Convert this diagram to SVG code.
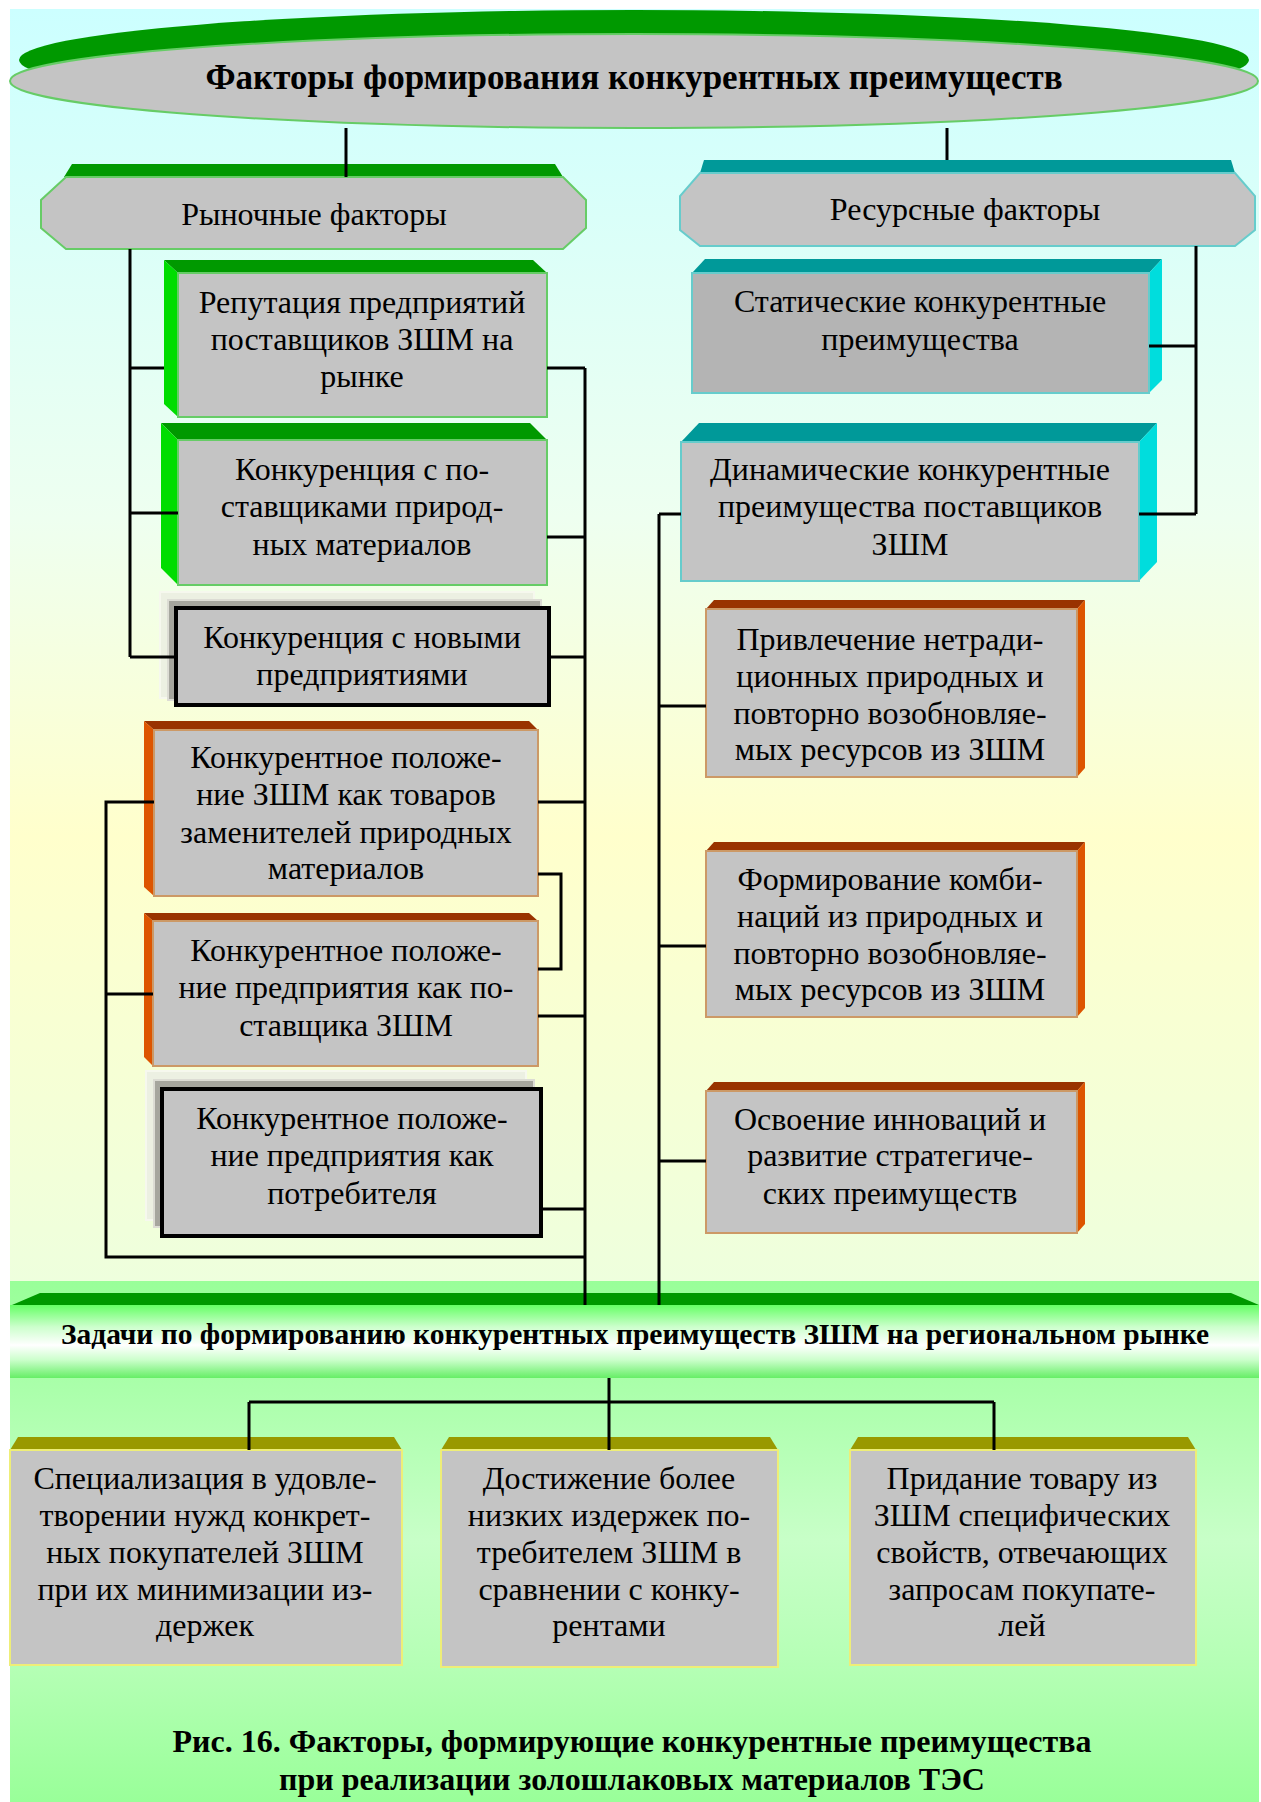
<svg xmlns="http://www.w3.org/2000/svg" width="1261" height="1802" viewBox="0 0 1261 1802">
<defs>
<linearGradient id="bgTop" x1="0" y1="9" x2="0" y2="1281" gradientUnits="userSpaceOnUse">
<stop offset="0" stop-color="#ccffff"/>
<stop offset="0.4" stop-color="#eefff0"/>
<stop offset="0.65" stop-color="#ffffcc"/>
<stop offset="1" stop-color="#eeffdd"/>
</linearGradient>
<linearGradient id="bgBot" x1="0" y1="1281" x2="0" y2="1802" gradientUnits="userSpaceOnUse">
<stop offset="0" stop-color="#99ff99"/>
<stop offset="0.2" stop-color="#aaffaa"/>
<stop offset="0.5" stop-color="#c8ffc8"/>
<stop offset="0.75" stop-color="#b4ffb4"/>
<stop offset="1" stop-color="#99ff99"/>
</linearGradient>
<linearGradient id="barG" x1="0" y1="1305" x2="0" y2="1378" gradientUnits="userSpaceOnUse">
<stop offset="0" stop-color="#66ff66"/>
<stop offset="0.3" stop-color="#ccffcc"/>
<stop offset="0.55" stop-color="#ffffff"/>
<stop offset="0.75" stop-color="#ccffcc"/>
<stop offset="1" stop-color="#66ee66"/>
</linearGradient>
<style>
.t{font-family:"Liberation Serif","Times New Roman",serif;font-size:32px;text-anchor:middle;fill:#000}
.b{font-weight:bold}
.face{fill:#c4c4c4}
.gs{stroke:#66cc66;stroke-width:2}
.cs{stroke:#66cccc;stroke-width:2}
.os{stroke:#cc9966;stroke-width:2}
.ys{stroke:#eeee77;stroke-width:2}
.gTop{fill:#009900}
.gSide{fill:#00dd00}
.cTop{fill:#009999}
.cSide{fill:#00dddd}
.oTop{fill:#993300}
.oSide{fill:#dd5500}
.olTop{fill:#999900}
.sh1{fill:#ecf0e2;stroke:#f6f8ee;stroke-width:2}
.sh2{fill:#a6a69e;stroke:#dcdcd4;stroke-width:2}
.blk{fill:#c4c4c4;stroke:#000;stroke-width:4}
.ln{fill:none;stroke:#000;stroke-width:3}
</style>
</defs>

<g id="background">
<rect x="0" y="0" width="1261" height="1802" fill="#ffffff"/>
<rect x="10" y="9" width="1249" height="1272" fill="url(#bgTop)"/>
<rect x="10" y="1281" width="1249" height="521" fill="url(#bgBot)"/>
</g>

<g id="title">
<ellipse cx="634" cy="60" rx="615" ry="50" fill="#009900"/>
<ellipse cx="634" cy="81" rx="624" ry="47" class="face gs"/>
<text class="t b" x="634" y="89" style="font-size:35px">Факторы формирования конкурентных преимуществ</text>
</g>

<g id="market">
<polygon class="gTop" points="72,164 555,164 563,177 64,177"/>
<polygon class="face gs" points="66,177 563,177 586,200 586,228 563,249 66,249 41,228 41,200"/>
<text class="t" x="314" y="225">Рыночные факторы</text>
</g>

<g id="resource">
<polygon class="cTop" points="704,160 1231,160 1235,173 700,173"/>
<polygon class="face cs" points="700,173 1235,173 1255,196 1255,230 1235,246 700,246 680,230 680,196"/>
<text class="t" x="965" y="220">Ресурсные факторы</text>
</g>

<g id="reputation">
<polygon class="gTop" points="164,260 533,260 547,273 178,273"/>
<polygon class="gSide" points="164,260 178,273 178,417 164,404"/>
<rect class="face gs" x="178" y="273" width="369" height="144"/>
<text class="t" x="362" y="313">Репутация предприятий</text>
<text class="t" x="362" y="350">поставщиков ЗШМ на</text>
<text class="t" x="362" y="387">рынке</text>
</g>

<g id="natural-competition">
<polygon class="gTop" points="161,423 530,423 547,440 178,440"/>
<polygon class="gSide" points="161,423 178,440 178,585 161,568"/>
<rect class="face gs" x="178" y="440" width="369" height="145"/>
<text class="t" x="362" y="480">Конкуренция с по-</text>
<text class="t" x="362" y="517">ставщиками природ-</text>
<text class="t" x="362" y="555">ных материалов</text>
</g>

<g id="new-competition">
<rect class="sh1" x="160" y="592" width="374" height="106"/>
<rect class="sh2" x="168" y="600" width="373" height="100"/>
<rect class="blk" x="176" y="608" width="373" height="97"/>
<text class="t" x="362" y="648">Конкуренция с новыми</text>
<text class="t" x="362" y="685">предприятиями</text>
</g>

<g id="substitute-position">
<polygon class="oTop" points="144,721 529,721 538,730 154,730"/>
<polygon class="oSide" points="144,721 154,730 154,896 144,887"/>
<rect class="face os" x="154" y="730" width="384" height="166"/>
<text class="t" x="346" y="768">Конкурентное положе-</text>
<text class="t" x="346" y="805">ние ЗШМ как товаров</text>
<text class="t" x="346" y="843">заменителей природных</text>
<text class="t" x="346" y="879">материалов</text>
</g>

<g id="supplier-position">
<polygon class="oTop" points="144,913 529,913 538,921 153,921"/>
<polygon class="oSide" points="144,913 153,921 153,1066 144,1057"/>
<rect class="face os" x="153" y="921" width="385" height="145"/>
<text class="t" x="346" y="961">Конкурентное положе-</text>
<text class="t" x="346" y="998">ние предприятия как по-</text>
<text class="t" x="346" y="1036">ставщика ЗШМ</text>
</g>

<g id="consumer-position">
<rect class="sh1" x="146" y="1071" width="380" height="149"/>
<rect class="sh2" x="154" y="1080" width="380" height="147"/>
<rect class="blk" x="162" y="1089" width="379" height="147"/>
<text class="t" x="352" y="1129">Конкурентное положе-</text>
<text class="t" x="352" y="1166">ние предприятия как</text>
<text class="t" x="352" y="1204">потребителя</text>
</g>

<g id="static">
<polygon class="cTop" points="705,259 1162,259 1149,273 692,273"/>
<polygon class="cSide" points="1149,273 1162,259 1162,380 1149,393"/>
<rect x="692" y="273" width="457" height="120" fill="#b4b4b4" class="cs"/>
<text class="t" x="920" y="312">Статические конкурентные</text>
<text class="t" x="920" y="350">преимущества</text>
</g>

<g id="dynamic">
<polygon class="cTop" points="699,423 1157,423 1139,442 681,442"/>
<polygon class="cSide" points="1139,442 1157,423 1157,562 1139,581"/>
<rect class="face cs" x="681" y="442" width="458" height="139"/>
<text class="t" x="910" y="480">Динамические конкурентные</text>
<text class="t" x="910" y="517">преимущества поставщиков</text>
<text class="t" x="910" y="555">ЗШМ</text>
</g>

<g id="attraction">
<polygon class="oTop" points="714,600 1085,600 1077,609 706,609"/>
<polygon class="oSide" points="1077,609 1085,600 1085,768 1077,777"/>
<rect class="face os" x="706" y="609" width="371" height="168"/>
<text class="t" x="890" y="650">Привлечение нетради-</text>
<text class="t" x="890" y="687">ционных природных и</text>
<text class="t" x="890" y="724">повторно возобновляе-</text>
<text class="t" x="890" y="760">мых ресурсов из ЗШМ</text>
</g>

<g id="combination">
<polygon class="oTop" points="714,842 1085,842 1077,851 706,851"/>
<polygon class="oSide" points="1077,851 1085,842 1085,1008 1077,1017"/>
<rect class="face os" x="706" y="851" width="371" height="166"/>
<text class="t" x="890" y="890">Формирование комби-</text>
<text class="t" x="890" y="927">наций из природных и</text>
<text class="t" x="890" y="964">повторно возобновляе-</text>
<text class="t" x="890" y="1000">мых ресурсов из ЗШМ</text>
</g>

<g id="innovation">
<polygon class="oTop" points="714,1082 1085,1082 1077,1091 706,1091"/>
<polygon class="oSide" points="1077,1091 1085,1082 1085,1224 1077,1233"/>
<rect class="face os" x="706" y="1091" width="371" height="142"/>
<text class="t" x="890" y="1130">Освоение инноваций и</text>
<text class="t" x="890" y="1166">развитие стратегиче-</text>
<text class="t" x="890" y="1204">ских преимуществ</text>
</g>

<g id="tasks">
<polygon class="gTop" points="40,1293 1231,1293 1259,1305 12,1305"/>
<rect x="10" y="1305" width="1249" height="73" fill="url(#barG)"/>
<text class="t b" x="635" y="1344" style="font-size:29.5px">Задачи по формированию конкурентных преимуществ ЗШМ на региональном рынке</text>
</g>

<g id="specialization">
<polygon class="olTop" points="18,1437 394,1437 402,1450 10,1450"/>
<rect class="face ys" x="10" y="1450" width="392" height="215"/>
<text class="t" x="205" y="1489">Специализация в удовле-</text>
<text class="t" x="205" y="1526">творении нужд конкрет-</text>
<text class="t" x="205" y="1563">ных покупателей ЗШМ</text>
<text class="t" x="205" y="1600">при их минимизации из-</text>
<text class="t" x="205" y="1636">держек</text>
</g>

<g id="low-costs">
<polygon class="olTop" points="449,1437 770,1437 778,1450 441,1450"/>
<rect class="face ys" x="441" y="1450" width="337" height="217"/>
<text class="t" x="609" y="1489">Достижение более</text>
<text class="t" x="609" y="1526">низких издержек по-</text>
<text class="t" x="609" y="1563">требителем ЗШМ в</text>
<text class="t" x="609" y="1600">сравнении с конку-</text>
<text class="t" x="609" y="1636">рентами</text>
</g>

<g id="specific-properties">
<polygon class="olTop" points="858,1437 1188,1437 1196,1450 850,1450"/>
<rect class="face ys" x="850" y="1450" width="346" height="215"/>
<text class="t" x="1022" y="1489">Придание товару из</text>
<text class="t" x="1022" y="1526">ЗШМ специфических</text>
<text class="t" x="1022" y="1563">свойств, отвечающих</text>
<text class="t" x="1022" y="1600">запросам покупате-</text>
<text class="t" x="1022" y="1636">лей</text>
</g>

<g id="caption">
<text class="t b" x="632" y="1752">Рис. 16. Факторы, формирующие конкурентные преимущества</text>
<text class="t b" x="632" y="1790">при реализации золошлаковых материалов ТЭС</text>
</g>

<g id="connectors">
<path class="ln" d="M346,128 V177"/>
<path class="ln" d="M947,128 V160"/>
<path class="ln" d="M130,249 V657 M130,368 H164 M130,513 H178 M130,657 H176"/>
<path class="ln" d="M585,368 V1305 M547,368 H585 M547,537 H585 M549,657 H585 M538,802 H585 M538,1016 H585 M541,1209 H585"/>
<path class="ln" d="M154,802 H106 V1257 H585 M106,994 H153"/>
<path class="ln" d="M538,874 H561 V969 H538"/>
<path class="ln" d="M1196,246 V514 M1149,346 H1196 M1139,514 H1196"/>
<path class="ln" d="M659,514 V1305 M659,514 H681 M659,706 H706 M659,946 H706 M659,1161 H706"/>
<path class="ln" d="M609,1378 V1450 M249,1402 H994 M249,1402 V1450 M994,1402 V1450"/>
</g>
</svg>
